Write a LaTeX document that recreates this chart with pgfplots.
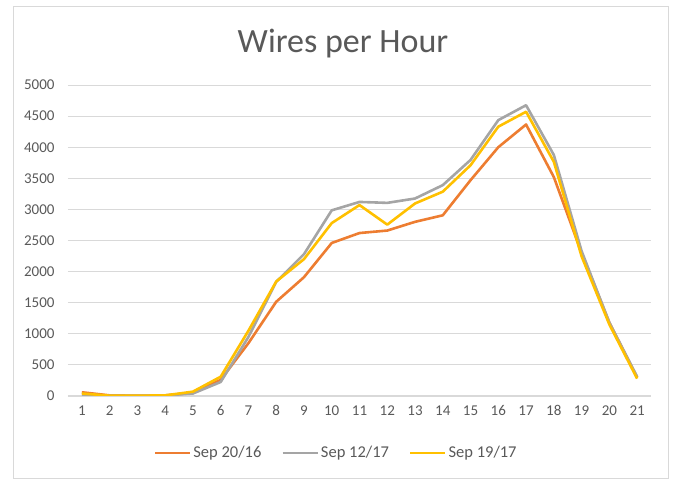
\documentclass[border=0pt]{standalone}
\usepackage{pgfplots}
\pgfplotsset{compat=1.18}
\usepackage{fontspec}
\setmainfont{Carlito}
\definecolor{cOrange}{HTML}{ED7D31}
\definecolor{cGray}{HTML}{A5A5A5}
\definecolor{cYellow}{HTML}{FFC000}
\definecolor{cText}{HTML}{595959}
\definecolor{cGrid}{HTML}{D9D9D9}
\begin{document}
\begin{tikzpicture}[x=1pt,y=1pt]
\useasboundingbox (0,0) rectangle (673,480);
\draw[cGrid, line width=1pt] (13,2) rectangle (668,473);
\node[text=cText, font=\fontsize{34}{40}\selectfont] at (343,436) {Wires per Hour};
\begin{axis}[
  at={(68pt,84pt)}, anchor=south west,
  width=583pt, height=311pt, scale only axis,
  xmin=0.5, xmax=21.5, ymin=0, ymax=5000,
  xtick={1,...,21}, ytick={0,500,...,5000},
  axis y line*=left, axis x line*=bottom,
  y axis line style={draw=none},
  x axis line style={cGrid, line width=1pt, -},
  ymajorgrids, grid style={cGrid, line width=0.9pt},
  major tick length=0pt,
  tick label style={text=cText, font=\fontsize{15}{17}\selectfont},
  /pgf/number format/assume math mode=true,
  /pgf/number format/1000 sep={},
  yticklabel style={anchor=east, xshift=-10pt},
  xticklabel style={yshift=-6pt},
  legend columns=3,
  legend style={draw=none, fill=none, at={(0.46,-0.183)}, anchor=center,
    font=\fontsize{16.5}{18}\selectfont, text=cText,
    /tikz/every even column/.append style={column sep=18pt}},
  legend image code/.code={\draw[#1, line width=2.6pt] (0pt,0pt) -- (35pt,0pt);},
  every axis plot/.append style={line width=2.6pt, line join=round},
]
\addplot[cOrange, mark=none] coordinates {
(1,60) (2,10) (3,5) (4,10) (5,50) (6,260) (7,850) (8,1515) (9,1910) (10,2460)
(11,2620) (12,2660) (13,2800) (14,2905) (15,3470) (16,4000) (17,4365) (18,3520)
(19,2300) (20,1180) (21,300)};
\addlegendentry{Sep 20/16}
\addplot[cGray, mark=none] coordinates {
(1,25) (2,5) (3,5) (4,10) (5,40) (6,225) (7,950) (8,1835) (9,2280) (10,2985)
(11,3120) (12,3105) (13,3175) (14,3390) (15,3795) (16,4435) (17,4675) (18,3875)
(19,2330) (20,1180) (21,310)};
\addlegendentry{Sep 12/17}
\addplot[cYellow, mark=none] coordinates {
(1,40) (2,5) (3,5) (4,10) (5,70) (6,310) (7,1050) (8,1840) (9,2200) (10,2780)
(11,3070) (12,2755) (13,3095) (14,3285) (15,3710) (16,4330) (17,4570) (18,3765)
(19,2245) (20,1150) (21,280)};
\addlegendentry{Sep 19/17}
\end{axis}
\end{tikzpicture}
\end{document}
